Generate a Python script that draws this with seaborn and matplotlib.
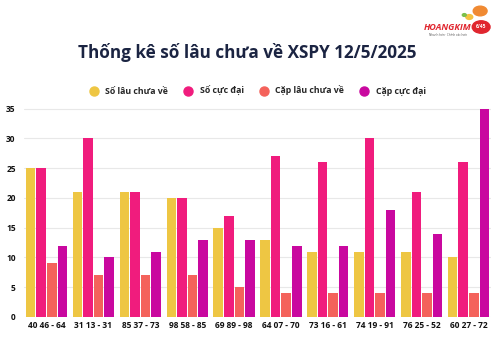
import matplotlib
matplotlib.use("Agg")
import matplotlib.pyplot as plt
import seaborn as sns
import pandas as pd
from matplotlib.lines import Line2D

categories = ["40 46 - 64", "31 13 - 31", "85 37 - 73", "98 58 - 85", "69 89 - 98",
              "64 07 - 70", "73 16 - 61", "74 19 - 91", "76 25 - 52", "60 27 - 72"]
so_lau_chua_ve = [25, 21, 21, 20, 15, 13, 11, 11, 11, 10]
so_cuc_dai = [25, 30, 21, 20, 17, 27, 26, 30, 21, 26]
cap_lau_chua_ve = [9, 7, 7, 7, 5, 4, 4, 4, 4, 4]
cap_cuc_dai = [12, 10, 11, 13, 13, 12, 12, 18, 14, 35]
series_names = ["Số lâu chưa về", "Số cực đại", "Cặp lâu chưa về", "Cặp cực đại"]
colors = ["#EEC643", "#F01C7D", "#F4625B", "#C9089F"]

df = pd.DataFrame({
    "cat": categories * 4,
    "series": [s for s in series_names for _ in categories],
    "value": so_lau_chua_ve + so_cuc_dai + cap_lau_chua_ve + cap_cuc_dai,
})

sns.set_theme(style="white")
plt.rcParams["font.family"] = ["Open Sans", "DejaVu Sans"]

fig = plt.figure(figsize=(4.95, 3.45), dpi=100)
ax = fig.add_axes([24 / 495, 1 - 317 / 345, 467 / 495, (317 - 108) / 345])

sns.barplot(data=df, x="cat", y="value", hue="series", palette=colors,
            width=0.9, gap=0.1, ax=ax, legend=False, saturation=1, linewidth=0)

ax.set_ylim(0, 35.1)
ax.set_xlim(-0.48, 9.48)
ax.set_yticks(range(0, 36, 5))
ax.yaxis.grid(True, color="#E8E8E8", linewidth=0.8)
ax.set_axisbelow(True)
for s in ax.spines.values():
    s.set_visible(False)
ax.set_xlabel("")
ax.set_ylabel("")
ax.tick_params(axis="both", length=0, labelsize=6, labelcolor="#111111")
ax.tick_params(axis="y", pad=6)
ax.tick_params(axis="x", pad=3)
for lbl in ax.get_xticklabels() + ax.get_yticklabels():
    lbl.set_fontweight("bold")

fig.text(0.5, 1 - 52 / 345, "Thống kê số lâu chưa về XSPY 12/5/2025",
         ha="center", va="center", fontsize=12.3, fontweight="bold", color="#1B2442")

handles = [Line2D([0], [0], marker="o", linestyle="", markersize=6.5,
                  markerfacecolor=c, markeredgecolor=c) for c in colors]
fig.legend(handles, series_names, loc="center", bbox_to_anchor=(0.516, 1 - 91 / 345),
           ncol=4, frameon=False, handletextpad=0.3, columnspacing=1.3,
           prop={"family": ["Open Sans", "DejaVu Sans"], "weight": "bold", "size": 6.3})

# brand mark
fig.text(0.905, 1 - 28 / 345, "HOANGKIM", ha="center", va="center", fontsize=6.5,
         fontweight="bold", color="#E0262F", style="italic")
fig.text(0.905, 1 - 35 / 345, "Nhanh hơn · Chính xác hơn", ha="center", va="center",
         fontsize=2.2, color="#555555")
fig.patches.append(plt.Circle((0.972, 1 - 27 / 345), 0.018, transform=fig.transFigure,
                              color="#E0262F", zorder=3))
fig.text(0.972, 1 - 27 / 345, "6/45", ha="center", va="center", fontsize=3.5,
         fontweight="bold", color="white", zorder=4)
fig.patches.append(plt.Circle((0.97, 1 - 11 / 345), 0.014, transform=fig.transFigure,
                              color="#F08A32", zorder=3))
fig.patches.append(plt.Circle((0.948, 1 - 17 / 345), 0.007, transform=fig.transFigure,
                              color="#F5C242", zorder=3))
fig.patches.append(plt.Circle((0.938, 1 - 15 / 345), 0.004, transform=fig.transFigure,
                              color="#7CC04B", zorder=3))

fig.savefig("out.png", dpi=100)
